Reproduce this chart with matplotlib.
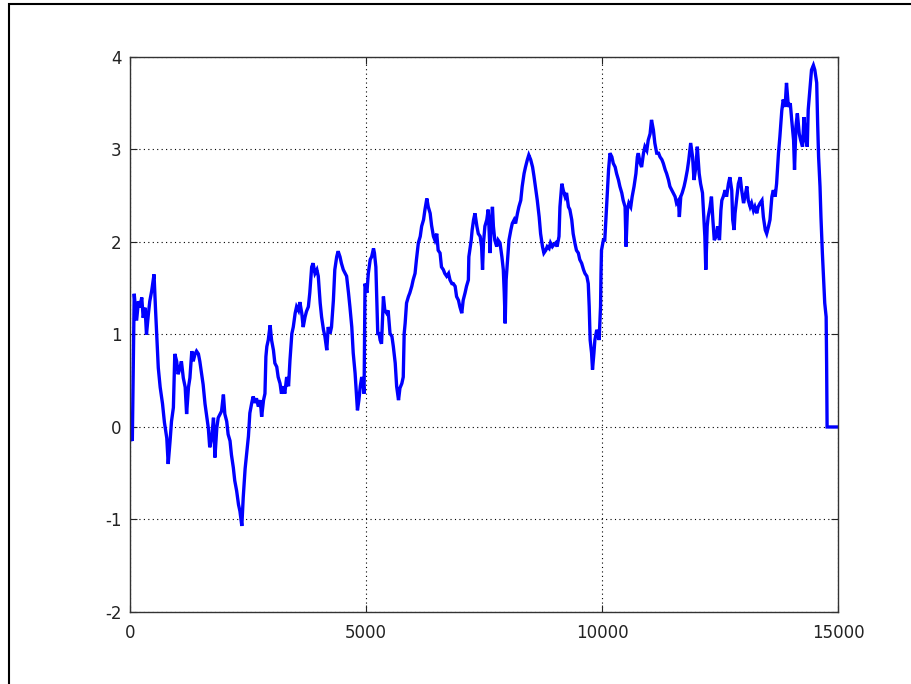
import matplotlib.pyplot as plt
from matplotlib.patches import Rectangle

# Sample index and level of the trace
steps = [
    0, 50, 90, 140, 180, 210, 250, 280, 320, 350, 390, 420, 460, 510, 540,
    570, 600, 640, 690, 730, 780, 810, 850, 880, 920, 950, 990, 1020, 1060,
    1090, 1130, 1170, 1200, 1240, 1270, 1310, 1340, 1380, 1410, 1450, 1480,
    1520, 1550, 1590, 1620, 1660, 1690, 1730, 1770, 1800, 1840, 1870, 1910,
    1940, 1980, 2010, 2050, 2080, 2120, 2150, 2190, 2220, 2260, 2300, 2330,
    2370, 2400, 2440, 2470, 2510,
    2540, 2580, 2610, 2650, 2680, 2720, 2760, 2790, 2830, 2860, 2880, 2900,
    2930, 2970, 3000, 3040, 3070, 3110, 3140, 3180, 3210, 3250, 3280, 3320,
    3360, 3390, 3430, 3460, 3500, 3530, 3570, 3600, 3640, 3670, 3710, 3740,
    3780, 3810, 3850, 3880, 3920, 3960, 3990, 4030, 4060, 4100, 4130, 4170,
    4200, 4240, 4270, 4310, 4340, 4380, 4410, 4450, 4480, 4520, 4560, 4590,
    4630, 4660, 4700, 4730, 4770, 4800, 4820, 4850, 4880, 4910, 4940, 4960,
    4980,
    5020, 5050, 5090, 5120, 5160, 5180, 5210, 5230, 5250, 5280, 5300, 5330,
    5370, 5400, 5440, 5470, 5510, 5550, 5580, 5620, 5650, 5690, 5720, 5760,
    5790, 5810, 5830, 5860, 5900, 5930, 5970, 6000, 6040, 6070, 6110, 6150,
    6180, 6220, 6250, 6290, 6320, 6360, 6390, 6430, 6460, 6500, 6530, 6570,
    6600, 6640, 6670, 6710, 6750, 6780, 6820, 6850, 6890, 6920, 6960, 6990,
    7030, 7060, 7100, 7130, 7170, 7180, 7230, 7250, 7280, 7310, 7350, 7380,
    7420, 7450, 7470, 7490, 7520, 7560, 7590,
    7630, 7650, 7680, 7700, 7730, 7770, 7800, 7840, 7880, 7910, 7930, 7950,
    7970, 8000, 8030, 8070, 8100, 8140, 8170, 8210, 8240, 8280, 8310, 8350,
    8380, 8420, 8450, 8490, 8530, 8560, 8600, 8630, 8670, 8700, 8740, 8770,
    8810, 8840, 8880, 8910, 8950, 8980, 9020, 9050, 9090, 9110, 9150, 9180,
    9220, 9250, 9290, 9320, 9360, 9390, 9430, 9460, 9500, 9530, 9570, 9610,
    9640, 9680, 9710, 9730, 9750, 9780, 9800, 9830, 9850, 9890, 9920, 9940,
    9970, 9980, 9990, 10030, 10060, 10100, 10140, 10170,
    10210, 10240, 10280, 10310, 10350, 10380, 10420, 10450, 10490, 10510,
    10540, 10570, 10610, 10640, 10680, 10720, 10750, 10770, 10810, 10840,
    10880, 10910, 10950, 10980, 11020, 11050, 11090, 11120, 11160, 11200,
    11230, 11270, 11300, 11340, 11370, 11410, 11440, 11480, 11510, 11550,
    11580, 11620, 11640, 11670, 11700, 11740, 11770, 11810, 11840, 11880,
    11920, 11950, 11990, 12020, 12060, 12090, 12130, 12160, 12180, 12200,
    12230, 12250, 12290, 12320, 12350, 12380, 12420, 12450, 12490, 12520,
    12540, 12570, 12610, 12640, 12680, 12710, 12750, 12770, 12800, 12820,
    12860, 12890, 12930, 12960, 13000, 13030, 13070, 13100, 13140, 13170,
    13210, 13240, 13280, 13310, 13350, 13390, 13420, 13460, 13490, 13530,
    13560, 13600, 13630, 13670, 13700, 13740, 13770, 13810, 13840, 13880,
    13910, 13950, 13990, 14020, 14060, 14080, 14110, 14140, 14180, 14210,
    14250, 14280, 14320, 14350, 14370, 14410, 14440, 14480, 14510, 14550,
    14570, 14590, 14620, 14640, 14670, 14690, 14720, 14750, 14760, 14770,
    15000,
]

levels = [
    -0.10, -0.15, 1.44, 1.15, 1.36, 1.29, 1.40, 1.18, 1.29, 1.00, 1.22, 1.36,
    1.47, 1.65, 1.29, 0.97, 0.64, 0.43, 0.25, 0.05, -0.12, -0.40, -0.15,
    0.06, 0.21, 0.79, 0.71, 0.57, 0.64, 0.71, 0.53, 0.43, 0.14, 0.43, 0.53,
    0.82, 0.71, 0.79, 0.82, 0.79, 0.71, 0.57, 0.46, 0.25, 0.14, -0.01, -0.22,
    -0.12, 0.10, -0.33, -0.01, 0.10, 0.14, 0.17, 0.35, 0.14, 0.06, -0.08,
    -0.15, -0.30, -0.44, -0.58, -0.69, -0.84, -0.91, -1.07, -0.76, -0.45,
    -0.30, -0.10,
    0.15, 0.26, 0.33, 0.26, 0.31, 0.22, 0.29, 0.11, 0.29, 0.36, 0.76, 0.87,
    0.94, 1.10, 0.94, 0.83, 0.69, 0.65, 0.54, 0.47, 0.36, 0.44, 0.36, 0.54,
    0.44, 0.72, 1.01, 1.08, 1.23, 1.30, 1.26, 1.35, 1.23, 1.08, 1.19, 1.25,
    1.30, 1.45, 1.73, 1.77, 1.66, 1.70, 1.63, 1.34, 1.19, 1.05, 0.98, 0.83,
    1.08, 1.01, 1.08, 1.37, 1.70, 1.84, 1.90, 1.84, 1.77, 1.70, 1.66, 1.63,
    1.45, 1.30, 1.08, 0.80, 0.58, 0.33, 0.18, 0.29, 0.44, 0.54, 0.47, 0.36,
    1.55,
    1.45, 1.66, 1.81, 1.84, 1.93, 1.88, 1.73, 1.37, 1.01, 1.01, 0.94, 0.90,
    1.41, 1.26, 1.23, 1.26, 1.01, 0.98, 0.87, 0.69, 0.44, 0.29, 0.42, 0.47,
    0.54, 1.01, 1.12, 1.34, 1.41, 1.45, 1.52, 1.59, 1.66, 1.81, 1.99, 2.06,
    2.17, 2.24, 2.35, 2.47, 2.38, 2.31, 2.18, 2.06, 2.02, 2.09, 1.91, 1.88,
    1.73, 1.70, 1.66, 1.63, 1.66, 1.59, 1.55, 1.55, 1.52, 1.41, 1.37, 1.30,
    1.23, 1.37, 1.45, 1.52, 1.59, 1.84, 2.02, 2.13, 2.24, 2.31, 2.17, 2.09,
    2.06, 1.95, 1.70, 1.99, 2.17, 2.24, 2.35,
    1.88, 2.17, 2.38, 2.17, 2.02, 1.95, 2.02, 1.99, 1.84, 1.70, 1.45, 1.12,
    1.59, 1.81, 2.02, 2.13, 2.20, 2.24, 2.20, 2.31, 2.38, 2.45, 2.60, 2.74,
    2.81, 2.89, 2.94, 2.89, 2.81, 2.71, 2.56, 2.45, 2.27, 2.09, 1.95, 1.88,
    1.91, 1.95, 1.93, 1.99, 1.95, 1.97, 1.99, 1.95, 2.06, 2.38, 2.63, 2.56,
    2.49, 2.53, 2.38, 2.35, 2.24, 2.09, 1.98, 1.91, 1.88, 1.81, 1.77, 1.70,
    1.66, 1.63, 1.55, 1.30, 0.94, 0.80, 0.62, 0.80, 0.94, 1.05, 1.01, 0.94,
    1.30, 1.66, 1.91, 2.02, 2.02, 2.40, 2.78, 2.96,
    2.92, 2.85, 2.81, 2.74, 2.67, 2.60, 2.53, 2.45, 2.38, 1.95,
    2.35, 2.42, 2.38, 2.49, 2.60, 2.74, 2.92, 2.96, 2.85, 2.81,
    2.96, 3.03, 2.99, 3.10, 3.17, 3.32, 3.21, 3.07, 2.96, 2.96,
    2.92, 2.89, 2.85, 2.78, 2.74, 2.67, 2.60, 2.56, 2.53, 2.49,
    2.42, 2.45, 2.27, 2.49, 2.53, 2.60, 2.67, 2.78, 2.89, 3.07,
    2.92, 2.67, 2.81, 3.03, 2.74, 2.63, 2.53, 2.24, 2.06, 1.70,
    2.17, 2.27, 2.38, 2.49, 2.24, 2.02, 2.06, 2.17, 2.02, 2.34,
    2.45, 2.49, 2.56, 2.49, 2.63, 2.70, 2.56, 2.24, 2.13, 2.31,
    2.49, 2.63, 2.70, 2.56, 2.42, 2.49, 2.60, 2.45, 2.38, 2.42,
    2.34, 2.38, 2.31, 2.38, 2.42, 2.45, 2.27, 2.13, 2.09, 2.17,
    2.24, 2.49, 2.56, 2.49, 2.63, 2.96, 3.14, 3.42, 3.54, 3.46,
    3.72, 3.46, 3.50, 3.32, 3.10, 2.78, 3.25, 3.39, 3.17, 3.10,
    3.03, 3.35, 3.10, 3.03, 3.43, 3.68, 3.86, 3.91, 3.86, 3.72,
    3.28, 2.92, 2.60, 2.27, 1.88, 1.66, 1.34, 1.19, 0.69, 0.00,
    0.00,
]

x_ticks = [0, 5000, 10000, 15000]
y_ticks = [-2, -1, 0, 1, 2, 3, 4]


def style_axes(ax):
    """
    Gives the axes a boxed look with inward ticks on all four sides
    and a dotted grid.

    Parameters:
    ax (Axes): The axes to style.
    """
    ax.set_xlim(0, 15000)
    ax.set_ylim(-2, 4)
    ax.set_xticks(x_ticks)
    ax.set_yticks(y_ticks)
    ax.tick_params(direction='in', length=5, width=0.8, top=True,
                   right=True, labelsize=12, colors='#222222')
    ax.tick_params(axis='y', pad=6)
    ax.tick_params(axis='x', pad=9)
    for spine in ax.spines.values():
        spine.set_color('#333333')
        spine.set_linewidth(1.0)
    ax.grid(True, color='black', linestyle=(0, (1, 3)), linewidth=0.8)


def plot_trace(steps, levels):
    """
    Plots the trace and saves the figure.

    Parameters:
    steps (list): Sample indices.
    levels (list): Values of the trace.
    """
    plt.rcParams['font.family'] = ['DejaVu Sans']
    plt.rcParams['axes.unicode_minus'] = False
    fig = plt.figure(figsize=(9.12, 6.84), dpi=100)
    ax = fig.add_axes([0.1425, 0.1053, 0.7763, 0.8114])

    ax.plot(steps, levels, color='#0000ff', linewidth=2.4,
            solid_joinstyle='miter')
    style_axes(ax)

    # outer frame of the window
    fig.patches.append(Rectangle((9 / 912, -0.1), 1.2, 1.1 - 4 / 684,
                                 transform=fig.transFigure, fill=False,
                                 edgecolor='black', linewidth=1.5))

    fig.savefig('out.png', dpi=100)


def main():
    """
    Main function that draws the trace.
    """
    plot_trace(steps, levels)


if __name__ == "__main__":
    main()
